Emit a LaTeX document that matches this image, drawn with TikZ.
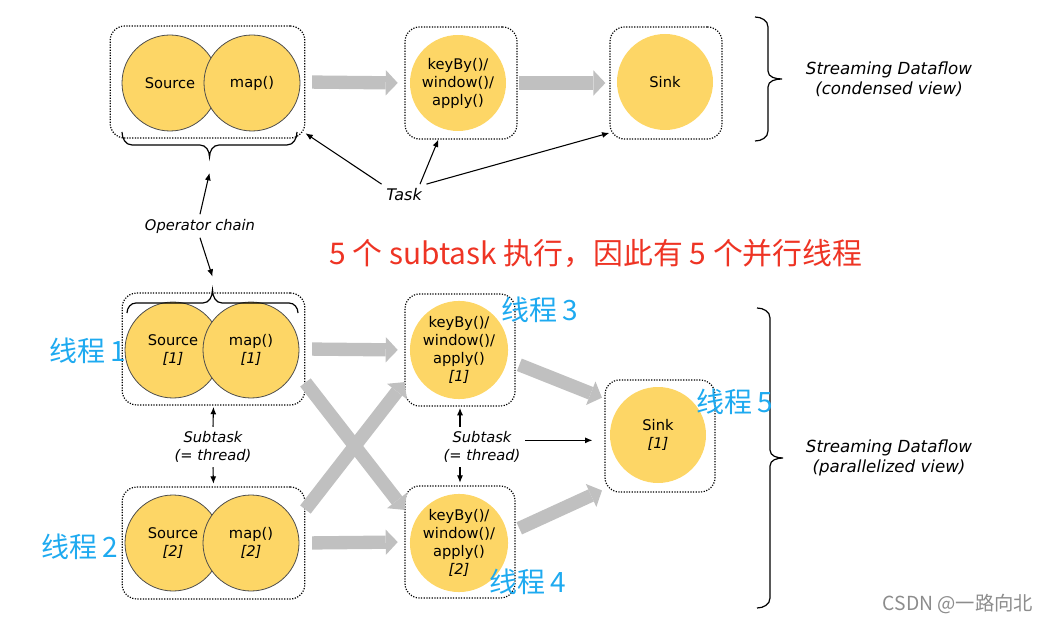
\documentclass[tikz,border=0pt]{standalone}
\usepackage{fontspec}
\setsansfont{DejaVu Sans}
\newfontfamily\cjk{Noto Sans CJK SC}
\RequirePackage{xcolor}
\tikzset{every picture/.style={/utils/exec={\sffamily}}}
\usetikzlibrary{calc}
\usetikzlibrary{positioning}
\usetikzlibrary{arrows.meta}

\definecolor{opyellow}{RGB}{253,214,102}
\definecolor{flowgray}{RGB}{192,192,192}
\definecolor{threadblue}{RGB}{30,170,240}
\definecolor{noteRed}{RGB}{238,52,36}

\tikzset{
  op/.style={circle, fill=opyellow, minimum size=72pt, inner sep=0pt, align=center,
    font=\fontsize{11}{13.5}\selectfont},
  chained/.style={op, draw=black!70, line width=0.6pt},
  taskbox/.style={draw, rounded corners=11pt, line width=0.9pt,
    dash pattern=on 0.9pt off 1.1pt, minimum height=84pt},
  flow/.style={color=flowgray, line width=10pt,
    -{Triangle[width=19pt,length=9pt,line width=0pt]}},
  ptr/.style={line width=0.8pt, -{Latex[length=5.5pt,width=4.5pt]}},
  lbl/.style={font=\fontsize{11}{13.5}\selectfont\itshape, align=center},
  thread/.style={font=\cjk\fontsize{21}{21}\selectfont, text=threadblue},
  bracket/.style={line width=0.9pt}
}

\begin{document}
\begin{tikzpicture}[x=0.75pt, y=-0.75pt]
  \useasboundingbox (0,0) rectangle (1052,623);

  % condensed view
  \node [taskbox, minimum width=146pt] (chain) at (207.5,82) {};
  \node [taskbox, minimum width=84pt] (keybox) at (461,83) {};
  \node [taskbox, minimum width=84pt] (sinkbox) at (666,83) {};
  \node [chained] (src) at (170,83) {Source};
  \node [chained] (map) at (252,83) {map()};
  \node [op] (key) at (458,83) {keyBy()/\\window()/\\apply()};
  \node [op] (sink) at (665,82) {Sink};

  % parallelized view
  \node [taskbox, minimum width=137pt] (a1) at (213.5,349) {};
  \node [taskbox, minimum width=137pt] (a2) at (213.5,543) {};
  \node [taskbox, minimum width=82.5pt] (b1) at (460,350) {};
  \node [taskbox, minimum width=82.5pt] (b2) at (460,542) {};
  \node [taskbox, minimum width=82.5pt] (cbox) at (660,436) {};
  \node [chained] (src1) at (173,350) {Source\\\textit{[1]}};
  \node [chained] (map1) at (251,350) {map()\\\textit{[1]}};
  \node [chained] (src2) at (173,543) {Source\\\textit{[2]}};
  \node [chained] (map2) at (251,543) {map()\\\textit{[2]}};
  \node [op] (key1) at (459,350) {keyBy()/\\window()/\\apply()\\\textit{[1]}};
  \node [op] (key2) at (459,543) {keyBy()/\\window()/\\apply()\\\textit{[2]}};
  \node [op] (sink1) at (658,435) {Sink\\\textit{[1]}};

  \draw [flow, shorten <=5pt, shorten >=5pt] (chain.east) -- (keybox.west);
  \draw [flow, shorten <=1pt, shorten >=3pt] (keybox.east) -- (sinkbox.west);
  \draw [flow, shorten <=5pt, shorten >=5pt] (a1.east) -- (b1.west);
  \draw [flow, shorten <=5pt, shorten >=5pt] (a2.east) -- (b2.west);
  \draw [flow] (a1.-20) -- (b2.150);
  \draw [flow] (a2.20) -- (b1.210);
  \draw [flow, shorten <=3pt, shorten >=2pt] ([yshift=-10pt]b1.east) -- ([yshift=28pt]cbox.west);
  \draw [flow, shorten <=3pt, shorten >=2pt] ([yshift=9pt]b2.east) -- ([yshift=-40pt]cbox.west);

  % braces
  \draw [bracket] (122,132) to[out=-90,in=180] (132,145) -- (200,145)
    to[out=0,in=90] (209.5,157) to[out=90,in=180] (219,145) -- (287,145)
    to[out=0,in=-90] (297,132);
  \draw [bracket] (127,313) to[out=90,in=180] (136,303) -- (203,303)
    to[out=0,in=-90] (212.5,290) to[out=-90,in=180] (222,303) -- (289,303)
    to[out=0,in=90] (298,313);
  \draw [bracket] (755,17) to[out=0,in=90] (768,27) -- (768,71)
    to[out=-90,in=180] (782,79) to[out=180,in=90] (768,87) -- (768,131)
    to[out=-90,in=0] (755,141);
  \draw [bracket] (757,308) to[out=0,in=90] (770,318) -- (770,450)
    to[out=-90,in=180] (783,458) to[out=180,in=90] (770,466) -- (770,598)
    to[out=-90,in=0] (757,608);
  \coordinate (chaintop) at (209.5,157);
  \coordinate (chainbot) at (212.5,290);

  \node [lbl, font=\fontsize{12.5}{15}\selectfont\itshape] (cview) at (889,79)
    {Streaming Dataflow\\(condensed view)};
  \node [lbl, font=\fontsize{12.5}{15}\selectfont\itshape] (pview) at (889,458)
    {Streaming Dataflow\\(parallelized view)};
  \node [lbl, font=\fontsize{12}{14}\selectfont\itshape] (task) at (404,195) {Task};
  \node [lbl] (opchain) at (200,226) {Operator chain};
  \node [lbl] (sub1) at (213,447) {Subtask\\(= thread)};
  \node [lbl] (sub2) at (482,447) {Subtask\\(= thread)};

  \draw [ptr] (task.north west) -- ([yshift=4pt]chain.south east);
  \draw [ptr] ([xshift=12pt]task.north) -- ([xshift=-17pt]keybox.south);
  \draw [ptr] (task.north east) -- ([yshift=5pt]sinkbox.south west);
  \draw [ptr] (opchain.north) -- ([yshift=-12pt]chaintop);
  \draw [ptr] (opchain.south) -- ([yshift=10pt]chainbot);
  \draw [ptr, shorten >=1pt] (sub1.north) -- (a1.south);
  \draw [ptr, shorten >=2pt] (sub1.south) -- (a2.north);
  \draw [ptr, shorten >=1pt] (sub2.north -| b1) -- (b1.south);
  \draw [ptr, shorten >=2pt] (sub2.south -| b2) -- (b2.north);
  \draw [ptr, shorten >=9pt] ([yshift=5pt]sub2.east) -- ([yshift=5pt]sub2.east -| cbox.west);

  \node [font=\cjk\fontsize{22.4}{22.4}\selectfont, text=noteRed] (note) at (596,254)
    {5 个 subtask 执行，因此有 5 个并行线程};

  \node [thread] (t1) at (88,351) {线程\,1};
  \node [thread] (t2) at (80,547) {线程\,2};
  \node [thread] (t3) at (540,310) {线程\,3};
  \node [thread] (t4) at (528,582) {线程\,4};
  \node [thread] (t5) at (735,402) {线程\,5};

  \node [font=\cjk\fontsize{14.5}{14.5}\selectfont, text=black!45] (mark) at (958,604)
    {CSDN @一路向北};
\end{tikzpicture}
\end{document}
